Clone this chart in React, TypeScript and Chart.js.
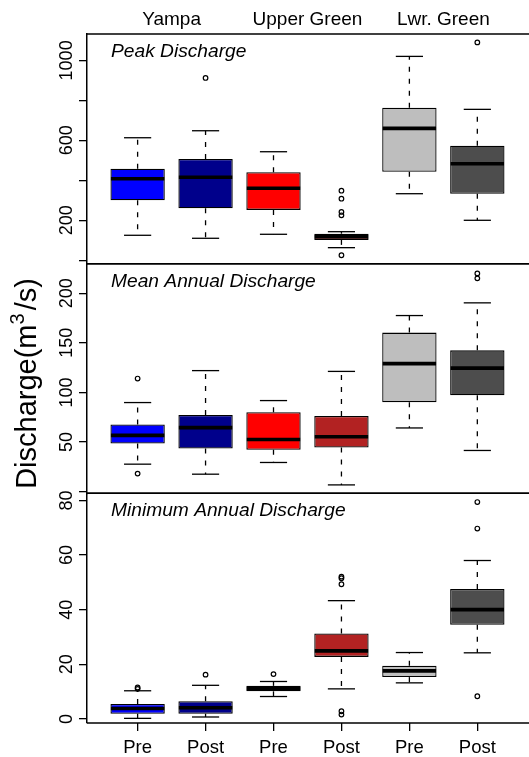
import React, { useEffect, useRef } from 'react';
import { Chart, registerables } from 'chart.js';

Chart.register(...registerables);

const FONT = '"Liberation Sans", Arial, Helvetica, sans-serif';

// Categories
const rivers = ['Yampa', 'Upper Green', 'Lwr. Green'];
const periods = ['Pre', 'Post', 'Pre', 'Post', 'Pre', 'Post'];
const boxColors = ['#0000FF', '#00008B', '#FF0000', '#B22222', '#BEBEBE', '#4D4D4D'];

// Peak discharge (m3/s)
const peakLow = [125, 110, 130, 63, 333, 200];
const peakQ1 = [300, 260, 252, 102, 443, 333];
const peakMedian = [408, 415, 360, 118, 660, 483];
const peakQ3 = [458, 507, 440, 133, 763, 573];
const peakHigh = [613, 648, 543, 143, 1020, 755];
const peakOutGroup = [2, 4, 4, 4, 4, 4, 6];
const peakOutValue = [912, 348, 308, 242, 225, 25, 1090];
const peakTicks = [0, 200, 400, 600, 800, 1000];
const peakTickLabels = [200, 600, 1000];

// Mean annual discharge
const meanLow = [27.7, 17.6, 29.4, 6.8, 64.2, 41.5];
const meanQ1 = [48.6, 43.5, 42.2, 44.5, 90, 97.2];
const meanMedian = [56.7, 64.5, 52.6, 55.4, 129, 124.5];
const meanQ3 = [67.8, 77.3, 80, 76.3, 160.3, 142.4];
const meanHigh = [89.8, 122, 91.8, 121.2, 177.5, 190.3];
const meanOutGroup = [1, 1, 6, 6];
const meanOutValue = [114, 18.2, 220, 215];
const meanTicks = [0, 50, 100, 150, 200];
const meanTickLabels = [50, 100, 150, 200];

// Minimum annual discharge
const minLow = [0.2, 0.7, 8.2, 11.0, 13.2, 24.2];
const minQ1 = [1.9, 1.9, 10.1, 22.7, 15.3, 34.5];
const minMedian = [3.8, 4.1, 11.1, 24.9, 17.6, 40.0];
const minQ3 = [5.5, 6.5, 12.1, 31.3, 19.5, 47.6];
const minHigh = [10.3, 12.3, 13.7, 43.3, 24.3, 58];
const minOutGroup = [1, 1, 2, 3, 4, 4, 4, 4, 4, 6, 6, 6];
const minOutValue = [11.0, 11.5, 16.2, 16.4, 52.1, 51.5, 49.3, 2.8, 1.6, 79.4, 69.7, 8.3];
const minTicks = [0, 20, 40, 60, 80];
const minTickLabels = [0, 20, 40, 60, 80];

const panels = [
  { id: 'yPeak', title: 'Peak Discharge', low: peakLow, q1: peakQ1, med: peakMedian, q3: peakQ3, high: peakHigh, outG: peakOutGroup, outV: peakOutValue, min: -17, max: 1132, ticks: peakTicks, labels: peakTickLabels },
  { id: 'yMean', title: 'Mean Annual Discharge', low: meanLow, q1: meanQ1, med: meanMedian, q3: meanQ3, high: meanHigh, outG: meanOutGroup, outV: meanOutValue, min: -1.7, max: 229.8, ticks: meanTicks, labels: meanTickLabels },
  { id: 'yMin', title: 'Minimum Annual Discharge', low: minLow, q1: minQ1, med: minMedian, q3: minQ3, high: minHigh, outG: minOutGroup, outV: minOutValue, min: -1.5, max: 82.6, ticks: minTicks, labels: minTickLabels },
];

const boxPlugin = {
  id: 'boxExtras',
  afterDatasetsDraw(chart: any) {
    const ctx = chart.ctx;
    const line = (x1: number, y1: number, x2: number, y2: number) => {
      ctx.beginPath();
      ctx.moveTo(x1, y1);
      ctx.lineTo(x2, y2);
      ctx.stroke();
    };
    panels.forEach((p, pi) => {
      const meta = chart.getDatasetMeta(pi);
      const ys = chart.scales[p.id];
      meta.data.forEach((bar: any, i: number) => {
        const { x, width } = bar.getProps(['x', 'width'], true);
        const hw = width / 2;
        const yHigh = ys.getPixelForValue(p.high[i]);
        const yLow = ys.getPixelForValue(p.low[i]);
        const yQ1 = ys.getPixelForValue(p.q1[i]);
        const yQ3 = ys.getPixelForValue(p.q3[i]);
        const yMed = ys.getPixelForValue(p.med[i]);
        ctx.save();
        ctx.strokeStyle = '#000';
        ctx.lineWidth = 1.3;
        ctx.setLineDash([5, 7]);
        line(x, yQ3, x, yHigh);
        line(x, yQ1, x, yLow);
        ctx.setLineDash([]);
        line(x - hw / 2, yHigh, x + hw / 2, yHigh);
        line(x - hw / 2, yLow, x + hw / 2, yLow);
        ctx.lineWidth = 3.6;
        ctx.lineCap = 'butt';
        line(x - hw + 0.5, yMed, x + hw - 0.5, yMed);
        ctx.restore();
      });
    });
  },
  afterDraw(chart: any) {
    const ctx = chart.ctx;
    const area = chart.chartArea;
    const xs = chart.scales.x;
    ctx.save();
    // panel frame lines
    ctx.strokeStyle = '#000';
    ctx.lineWidth = 1.5;
    panels.forEach((p) => {
      const s = chart.scales[p.id];
      [s.top, s.bottom].forEach((yy: number) => {
        ctx.beginPath();
        ctx.moveTo(area.left, yy);
        ctx.lineTo(chart.width, yy);
        ctx.stroke();
      });
    });
    ctx.fillStyle = '#000';
    // panel titles
    ctx.font = `italic 19.2px ${FONT}`;
    ctx.textAlign = 'left';
    ctx.textBaseline = 'alphabetic';
    panels.forEach((p) => {
      const s = chart.scales[p.id];
      ctx.fillText(p.title, area.left + 24, s.top + 23);
    });
    // y tick labels (rotated)
    ctx.font = `18px ${FONT}`;
    ctx.textAlign = 'center';
    panels.forEach((p) => {
      const s = chart.scales[p.id];
      p.labels.forEach((v) => {
        const y = s.getPixelForValue(v);
        ctx.save();
        ctx.translate(72, y);
        ctx.rotate(-Math.PI / 2);
        ctx.fillText(String(v), 0, 0);
        ctx.restore();
      });
    });
    // river labels on top
    ctx.font = `19px ${FONT}`;
    ctx.textAlign = 'center';
    rivers.forEach((r, k) => {
      const x = (xs.getPixelForValue(2 * k + 1) + xs.getPixelForValue(2 * k + 2)) / 2;
      ctx.fillText(r, x, 25);
    });
    // y axis title
    const big = 29;
    const small = 20;
    const part1 = 'Discharge(m';
    const sup = '3';
    const part2 = '/s)';
    ctx.font = `${big}px ${FONT}`;
    const w1 = ctx.measureText(part1).width;
    const w3 = ctx.measureText(part2).width;
    ctx.font = `${small}px ${FONT}`;
    const w2 = ctx.measureText(sup).width;
    const gap = 3;
    const total = w1 + w2 + gap + w3;
    const cy = (chart.scales.yPeak.top + chart.scales.yMin.bottom) / 2 + 5;
    ctx.save();
    ctx.translate(36, cy);
    ctx.rotate(-Math.PI / 2);
    ctx.textAlign = 'left';
    let cx = -total / 2;
    ctx.font = `${big}px ${FONT}`;
    ctx.fillText(part1, cx, 0);
    cx += w1;
    ctx.font = `${small}px ${FONT}`;
    ctx.fillText(sup, cx, -12);
    cx += w2 + gap;
    ctx.font = `${big}px ${FONT}`;
    ctx.fillText(part2, cx, 0);
    ctx.restore();
    ctx.restore();
  },
};

export default function App() {
  const canvasRef = useRef<HTMLCanvasElement | null>(null);

  useEffect(() => {
    const canvas = canvasRef.current;
    if (!canvas) return;

    const barSets = panels.map((p) => ({
      type: 'bar' as const,
      label: p.title,
      data: p.q1.map((q, i) => ({ x: i + 1, y: [q, p.q3[i]] })),
      yAxisID: p.id,
      xAxisID: 'x',
      backgroundColor: boxColors,
      borderColor: '#000',
      borderWidth: 1.3,
      borderSkipped: false,
      grouped: false,
      stack: 'boxes',
      barPercentage: 0.8,
      categoryPercentage: 1.0,
      order: 2,
    }));

    const outlierSets = panels.map((p) => ({
      type: 'scatter' as const,
      label: p.title + ' outliers',
      data: p.outG.map((g, i) => ({ x: g, y: p.outV[i] })),
      yAxisID: p.id,
      xAxisID: 'x',
      pointStyle: 'circle',
      pointRadius: 2.3,
      pointBorderWidth: 1.2,
      pointBorderColor: '#000',
      pointBackgroundColor: 'rgba(0,0,0,0)',
      borderColor: '#000',
      backgroundColor: 'rgba(0,0,0,0)',
      showLine: false,
      order: 1,
    }));

    const yScale = (p: any) => ({
      type: 'linear',
      position: 'left',
      stack: 'panels',
      stackWeight: 1,
      stacked: false,
      min: p.min,
      max: p.max,
      afterBuildTicks: (s: any) => {
        s.ticks = p.ticks.map((v: number) => ({ value: v }));
      },
      afterFit: (s: any) => {
        s.width = 87;
      },
      ticks: { display: false },
      grid: { display: true, drawOnChartArea: false, drawTicks: true, tickLength: 8, color: '#000', lineWidth: 1.3 },
      border: { display: true, color: '#000', width: 1.5 },
    });

    const chart = new Chart(canvas, {
      type: 'bar',
      data: { datasets: [...barSets, ...outlierSets] as any },
      options: {
        responsive: false,
        animation: false,
        devicePixelRatio: 1,
        layout: { padding: { top: 34, left: 0, right: 0, bottom: 0 } },
        plugins: { legend: { display: false }, tooltip: { enabled: false } },
        scales: {
          x: {
            type: 'linear',
            position: 'bottom',
            offset: false,
            min: 0.255,
            max: 6.684,
            afterBuildTicks: (s: any) => {
              s.ticks = periods.map((_, i) => ({ value: i + 1 }));
            },
            afterFit: (s: any) => {
              s.height = 34;
            },
            ticks: {
              callback: (v: any) => periods[Math.round(Number(v)) - 1] ?? '',
              font: { size: 18.5, family: FONT },
              color: '#000',
              padding: 6,
              autoSkip: false,
              maxRotation: 0,
              minRotation: 0,
            },
            grid: { display: true, offset: false, drawOnChartArea: false, drawTicks: true, tickLength: 8, color: '#000', lineWidth: 1.3 },
            border: { display: false },
          },
          yMin: yScale(panels[2]),
          yMean: yScale(panels[1]),
          yPeak: yScale(panels[0]),
        } as any,
      },
      plugins: [boxPlugin],
    });

    return () => chart.destroy();
  }, []);

  return (
    <div style={{ position: 'fixed', left: 0, top: 0, width: 529, height: 757, background: '#fff' }}>
      <canvas ref={canvasRef} width={529} height={757} style={{ display: 'block' }} />
    </div>
  );
}
